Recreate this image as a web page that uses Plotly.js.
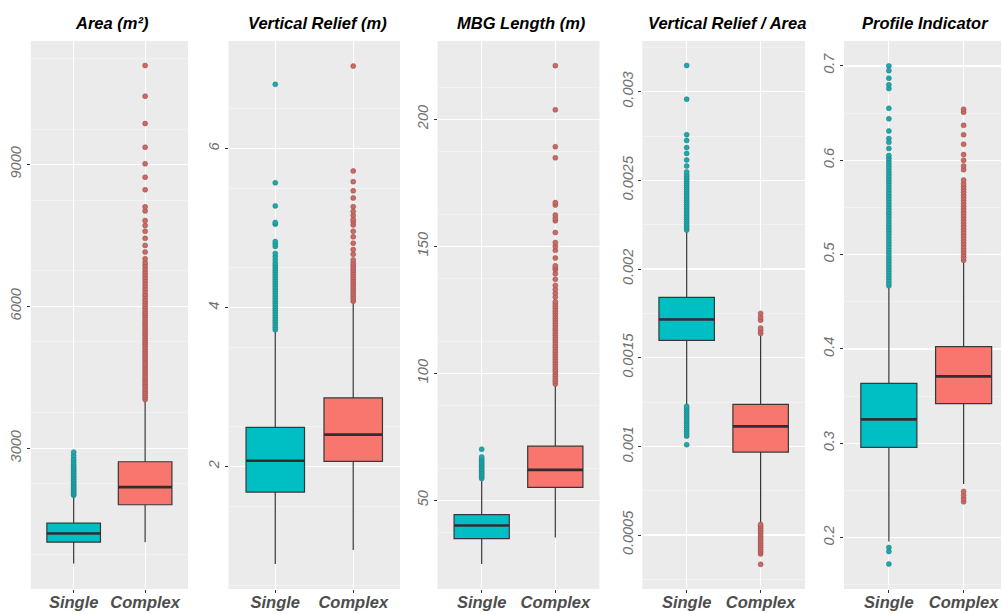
<!DOCTYPE html>
<html><head><meta charset="utf-8">
<script src="https://cdn.plot.ly/plotly-3.0.1.min.js"></script>
<style>html,body{margin:0;padding:0;background:#fff}#chart{width:1003px;height:614px}</style>
</head><body><div id="chart"></div>
<script>
// ---------- DATA ----------
const categories = ['Single', 'Complex'];
const panelTitles = ['Area (m²)', 'Vertical Relief (m)', 'MBG Length (m)', 'Vertical Relief / Area', 'Profile Indicator'];

// Area (m2)  [Single, Complex]
const areaLow = [570, 1020];
const areaQ1 = [1020, 1810];
const areaMedian = [1204, 2182];
const areaQ3 = [1422, 2719];
const areaHigh = [2000, 4030];
const areaOutSingle = [2010, 2035, 2060, 2090, 2115, 2145, 2170, 2200, 2230, 2260, 2290, 2320, 2350, 2385, 2415, 2450, 2480, 2515, 2550, 2585, 2620, 2660, 2700, 2745, 2790, 2850, 2922];
const areaOutComplex = [4035, 4080, 4120, 4165, 4210, 4250, 4300, 4345, 4390, 4440, 4485, 4530, 4580, 4625, 4670, 4720, 4765, 4810, 4860, 4905, 4950, 5000, 5045, 5090, 5140, 5190, 5235, 5280, 5330, 5380, 5425, 5470, 5520, 5570, 5615, 5660, 5710, 5760, 5810, 5855, 5900, 5950, 6000, 6050, 6100, 6150, 6210, 6260, 6320, 6380, 6440, 6500, 6560, 6620, 6680, 6740, 6800, 6870, 6930, 7010, 7150, 7290, 7440, 7590, 7710, 7815, 8020, 8105, 8466, 8732, 9015, 9366, 9866, 10443, 11092];
const areaTicks = [3000, 6000, 9000];
const areaTickText = ['3000', '6000', '9000'];

// Vertical Relief (m)
const vrLow = [0.77, 0.946];
const vrQ1 = [1.677, 2.063];
const vrMedian = [2.07, 2.40];
const vrQ3 = [2.49, 2.862];
const vrHigh = [3.70, 4.06];
const vrOutSingle = [3.72, 3.75, 3.78, 3.81, 3.84, 3.87, 3.90, 3.93, 3.96, 3.99, 4.02, 4.05, 4.08, 4.11, 4.14, 4.17, 4.20, 4.23, 4.26, 4.29, 4.32, 4.35, 4.38, 4.41, 4.44, 4.47, 4.50, 4.53, 4.56, 4.60, 4.64, 4.68, 4.77, 4.80, 4.83, 5.05, 5.07, 5.28, 5.57, 6.81];
const vrOutComplex = [4.08, 4.11, 4.14, 4.17, 4.20, 4.23, 4.26, 4.29, 4.32, 4.35, 4.38, 4.41, 4.44, 4.47, 4.50, 4.53, 4.56, 4.60, 4.67, 4.73, 4.81, 4.89, 4.96, 5.04, 5.08, 5.11, 5.16, 5.21, 5.27, 5.38, 5.47, 5.585, 5.72, 7.04];
const vrTicks = [2, 4, 6];
const vrTickText = ['2', '4', '6'];

// MBG Length (m)
const mbgLow = [24.9, 35.4];
const mbgQ1 = [34.9, 55.1];
const mbgMedian = [40.1, 62.0];
const mbgQ3 = [44.4, 71.3];
const mbgHigh = [58.2, 95.6];
const mbgOutSingle = [58.6, 59.2, 59.8, 60.4, 61.0, 61.6, 62.2, 62.8, 63.4, 64.0, 64.6, 65.2, 65.8, 66.4, 67.1, 70.1];
const mbgOutComplex = [95.8, 96.8, 97.7, 98.7, 99.6, 100.6, 101.5, 102.5, 103.4, 104.4, 105.3, 106.3, 107.2, 108.2, 109.1, 110.1, 111.0, 112.0, 113.0, 113.9, 114.9, 115.8, 116.8, 117.7, 118.7, 119.6, 120.6, 121.5, 122.5, 123.5, 124.4, 125.4, 126.3, 127.3, 128.2, 130.0, 131.5, 133.0, 134.6, 137.0, 139.2, 140.8, 141.5, 142.3, 145.4, 148.4, 150.0, 151.5, 155.4, 160.0, 161.0, 162.3, 166.2, 167.2, 184.8, 189.2, 203.7, 221.1];
const mbgTicks = [50, 100, 150, 200];
const mbgTickText = ['50', '100', '150', '200'];

// Vertical Relief / Area
const vraLow = [0.001235, 0.000568];
const vraQ1 = [0.001598, 0.000968];
const vraMedian = [0.001716, 0.001113];
const vraQ3 = [0.00184, 0.001237];
const vraHigh = [0.00221, 0.00163];
const vraOutSingle = [0.00101, 0.001058, 0.00107, 0.001082, 0.001094, 0.001106, 0.001118, 0.00113, 0.001142, 0.001154, 0.001166, 0.001178, 0.00119, 0.001202, 0.001214, 0.001226,
  0.00222, 0.002232, 0.002244, 0.002256, 0.002268, 0.00228, 0.002292, 0.002304, 0.002316, 0.002328, 0.00234, 0.002352, 0.002364, 0.002376, 0.002388, 0.0024, 0.002412, 0.002424, 0.002436, 0.002448, 0.00246, 0.002472, 0.002484, 0.002496, 0.002508, 0.00252, 0.002532, 0.002548, 0.002581, 0.002615, 0.002652, 0.002685, 0.002725, 0.002758, 0.002958, 0.003148];
const vraOutComplex = [0.000335, 0.000394, 0.000406, 0.000418, 0.00043, 0.000442, 0.000454, 0.000466, 0.000478, 0.00049, 0.000502, 0.000514, 0.000526, 0.000538, 0.00055, 0.00056,
  0.001637, 0.001652, 0.001667, 0.001712, 0.001728, 0.00175];
const vraTicks = [0.0005, 0.001, 0.0015, 0.002, 0.0025, 0.003];
const vraTickText = ['0.0005', '0.001', '0.0015', '0.002', '0.0025', '0.003'];

// Profile Indicator
const piLow = [0.196, 0.257];
const piQ1 = [0.2958, 0.342];
const piMedian = [0.3254, 0.371];
const piQ3 = [0.3636, 0.4024];
const piHigh = [0.465, 0.493];
const piOutSingle = [0.172, 0.1854, 0.1896,
  0.467, 0.470, 0.473, 0.476, 0.479, 0.482, 0.485, 0.488, 0.491, 0.494, 0.497, 0.500, 0.503, 0.506, 0.509, 0.512, 0.515, 0.518, 0.521, 0.524, 0.527, 0.530, 0.533, 0.536, 0.539, 0.542, 0.545, 0.548, 0.551, 0.554, 0.557, 0.560, 0.563, 0.566, 0.569, 0.572, 0.575, 0.578, 0.581, 0.584, 0.587, 0.590, 0.593, 0.596, 0.599, 0.602, 0.605,
  0.6125, 0.619, 0.623, 0.631, 0.644, 0.655, 0.676, 0.680, 0.687, 0.695, 0.700];
const piOutComplex = [0.238, 0.2415, 0.245, 0.249,
  0.494, 0.497, 0.500, 0.503, 0.506, 0.509, 0.512, 0.515, 0.518, 0.521, 0.524, 0.527, 0.530, 0.533, 0.536, 0.539, 0.542, 0.545, 0.548, 0.551, 0.554, 0.557, 0.560, 0.563, 0.566, 0.569, 0.572, 0.575,
  0.579, 0.590, 0.594, 0.600, 0.606, 0.617, 0.627, 0.637, 0.651, 0.654];
const piTicks = [0.2, 0.3, 0.4, 0.5, 0.6, 0.7];
const piTickText = ['0.2', '0.3', '0.4', '0.5', '0.6', '0.7'];

// ---------- STYLE ----------
const W = 1003, H = 614;
const fillColors = ['#00BFC4', '#F8766D'];
const pointColors = ['#1FA8AB', '#CC6965'];
const pointEdge = ['#1a7a7c', '#8e4b48'];
const FONT = 'Liberation Sans, Arial, sans-serif';

const panels = [
  {low: areaLow, q1: areaQ1, med: areaMedian, q3: areaQ3, high: areaHigh, outs: [areaOutSingle, areaOutComplex], ticks: areaTicks, tickText: areaTickText, minor: 1500, yr: [30, 11610], px: [30.8, 188], xr: [-0.6, 1.6]},
  {low: vrLow, q1: vrQ1, med: vrMedian, q3: vrQ3, high: vrHigh, outs: [vrOutSingle, vrOutComplex], ticks: vrTicks, tickText: vrTickText, minor: 1, yr: [0.456, 7.356], px: [228.5, 400], xr: [-0.6, 1.6]},
  {low: mbgLow, q1: mbgQ1, med: mbgMedian, q3: mbgQ3, high: mbgHigh, outs: [mbgOutSingle, mbgOutComplex], ticks: mbgTicks, tickText: mbgTickText, minor: 25, yr: [15.1, 230.8], px: [437.5, 599.5], xr: [-0.6, 1.6]},
  {low: vraLow, q1: vraQ1, med: vraMedian, q3: vraQ3, high: vraHigh, outs: [vraOutSingle, vraOutComplex], ticks: vraTicks, tickText: vraTickText, minor: 0.0005, yr: [0.000196, 0.003286], px: [642.3, 805], xr: [-0.6, 1.6]},
  {low: piLow, q1: piQ1, med: piMedian, q3: piQ3, high: piHigh, outs: [piOutSingle, piOutComplex], ticks: piTicks, tickText: piTickText, minor: 0.1, yr: [0.1456, 0.7264], px: [844, 1001], xr: [-0.6, 1.5]}
];

const yDom = [1 - 589 / H, 1 - 41 / H];
const data = [];
const layout = {
  width: W, height: H,
  margin: {l: 0, r: 0, t: 0, b: 0},
  paper_bgcolor: '#ffffff',
  plot_bgcolor: '#EBEBEB',
  showlegend: false,
  annotations: []
};

panels.forEach((p, k) => {
  const sfx = k === 0 ? '' : String(k + 1);
  const xa = 'x' + sfx, ya = 'y' + sfx;
  categories.forEach((c, i) => {
    data.push({
      type: 'box', xaxis: xa, yaxis: ya, name: c,
      x: [i], q1: [p.q1[i]], median: [p.med[i]], q3: [p.q3[i]],
      lowerfence: [p.low[i]], upperfence: [p.high[i]],
      width: 0.75, whiskerwidth: 0, boxpoints: false,
      fillcolor: fillColors[i],
      line: {color: '#383838', width: 1.2},
      hoverinfo: 'skip'
    });
    data.push({
      type: 'scatter', mode: 'lines', xaxis: xa, yaxis: ya,
      x: [i - 0.375, i + 0.375], y: [p.med[i], p.med[i]],
      line: {color: '#2f2f2f', width: 2.6}, hoverinfo: 'skip'
    });
    data.push({
      type: 'scatter', mode: 'markers', xaxis: xa, yaxis: ya,
      x: p.outs[i].map(() => i), y: p.outs[i],
      marker: {size: 5, color: pointColors[i], line: {color: pointEdge[i], width: 0.5}},
      hoverinfo: 'skip'
    });
  });
  layout['xaxis' + sfx] = {
    domain: [p.px[0] / W, p.px[1] / W], anchor: ya, range: p.xr,
    tickmode: 'array', tickvals: [0, 1], ticktext: categories,
    showgrid: true, gridcolor: '#ffffff', gridwidth: 1.2, zeroline: false,
    ticks: 'outside', ticklen: 3, tickcolor: '#333333', tickwidth: 1,
    ticklabelstandoff: -5,
    tickfont: {family: FONT, size: 16.5, color: '#4D4D4D', weight: 'bold', style: 'italic'},
    showline: false, fixedrange: true
  };
  layout['yaxis' + sfx] = {
    domain: yDom, anchor: xa, range: p.yr,
    tickmode: 'array', tickvals: p.ticks, ticktext: p.tickText, tickangle: -90,
    showgrid: true, gridcolor: '#ffffff', gridwidth: 1.2, zeroline: false,
    minor: {dtick: p.minor, tick0: p.ticks[0] - p.minor / 2, showgrid: true, gridcolor: '#F7F7F7', gridwidth: 0.6, ticks: ''},
    ticks: 'outside', ticklen: 3, tickcolor: '#333333', tickwidth: 1,
    tickfont: {family: FONT, size: 14.5, color: '#707070', style: 'italic'},
    showline: false, fixedrange: true
  };
  layout.annotations.push({
    text: panelTitles[k], xref: 'paper', yref: 'paper',
    x: ((p.px[0] + p.px[1]) / 2 + 3) / W, y: 1 - 23 / H,
    xanchor: 'center', yanchor: 'middle', showarrow: false,
    font: {family: FONT, size: 16.5, color: '#000000', weight: 'bold', style: 'italic'}
  });
});

Plotly.newPlot('chart', data, layout, {staticPlot: true, displayModeBar: false});
</script>
</body></html>
